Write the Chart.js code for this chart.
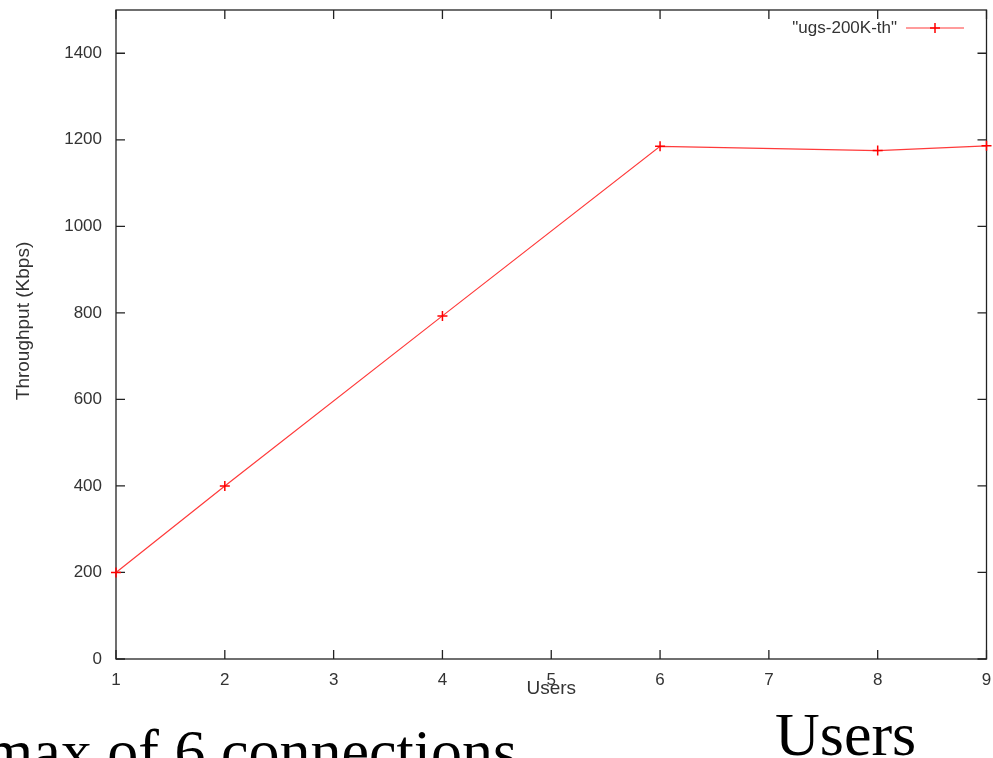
<!DOCTYPE html>
<html><head><meta charset="utf-8">
<script src="https://cdn.jsdelivr.net/npm/chart.js@4.4.0/dist/chart.umd.min.js"></script>
<style>
html,body{margin:0;padding:0;background:#fff;}
#wrap{position:relative;width:993px;height:758px;overflow:hidden;background:#fff;}
canvas{position:absolute;left:0;top:0;}
.big{position:absolute;font-family:'Liberation Serif','Times New Roman',serif;font-size:62px;color:#000;white-space:nowrap;line-height:1;}
</style></head><body>
<div id="wrap"><canvas id="c" width="993" height="758"></canvas>
<div class="big" id="t1" style="left:-15px;top:720px;">max of 6 connections</div>
<div class="big" id="t2" style="left:775px;top:703px;">Users</div>
</div>
<script>
const users = [1, 2, 4, 6, 8, 9];
const throughput = [200, 400, 793, 1185, 1175, 1186];
const xTicks = [1, 2, 3, 4, 5, 6, 7, 8, 9];
const yTicks = [0, 200, 400, 600, 800, 1000, 1200, 1400];
const seriesName = '"ugs-200K-th"';
const xTitle = 'Users';
const yTitle = 'Throughput (Kbps)';

const AX = '#333';
const FONT = "'Liberation Sans', Arial, sans-serif";

const framePlugin = {
  id: 'frame',
  beforeDatasetsDraw(chart) {
    const {ctx, chartArea: a, scales: {x, y}} = chart;
    ctx.save();
    ctx.strokeStyle = '#222';
    ctx.lineWidth = 1.3;
    ctx.strokeRect(a.left, a.top, a.right - a.left, a.bottom - a.top);
    ctx.beginPath();
    const L = 9;
    xTicks.forEach(v => {
      const p = x.getPixelForValue(v);
      ctx.moveTo(p, a.bottom); ctx.lineTo(p, a.bottom - L);
      ctx.moveTo(p, a.top); ctx.lineTo(p, a.top + L);
    });
    yTicks.forEach(v => {
      const p = y.getPixelForValue(v);
      ctx.moveTo(a.left, p); ctx.lineTo(a.left + L, p);
      ctx.moveTo(a.right, p); ctx.lineTo(a.right - L, p);
    });
    ctx.stroke();
    ctx.fillStyle = AX;
    ctx.font = "19px " + FONT;
    ctx.textAlign = 'center';
    ctx.textBaseline = 'middle';
    ctx.translate(24, 321);
    ctx.rotate(-Math.PI / 2);
    ctx.fillText(yTitle, 0, 0);
    ctx.restore();
  },
  afterDraw(chart) {
    const {ctx, chartArea: a} = chart;
    const ds = chart.data.datasets[0];
    ctx.save();
    const ly = a.top + 18;
    ctx.fillStyle = AX;
    ctx.font = "17px " + FONT;
    ctx.textAlign = 'right';
    ctx.textBaseline = 'middle';
    ctx.fillText(ds.label, 897, ly);
    ctx.strokeStyle = ds.borderColor;
    ctx.lineWidth = 1.2;
    ctx.beginPath();
    ctx.moveTo(906, ly); ctx.lineTo(964, ly);
    ctx.stroke();
    ctx.strokeStyle = ds.pointBorderColor;
    ctx.lineWidth = 1.5;
    ctx.beginPath();
    ctx.moveTo(935 - 5, ly); ctx.lineTo(935 + 5, ly);
    ctx.moveTo(935, ly - 5); ctx.lineTo(935, ly + 5);
    ctx.stroke();
    ctx.restore();
  }
};

new Chart(document.getElementById('c'), {
  type: 'line',
  data: {
    datasets: [{
      label: seriesName,
      data: users.map((u, i) => ({x: u, y: throughput[i]})),
      borderColor: '#ff3a3a',
      borderWidth: 1.2,
      pointStyle: 'cross',
      pointRadius: 5,
      pointBorderColor: '#ff0000',
      pointBorderWidth: 1.5,
      pointBackgroundColor: '#ff0000',
      tension: 0,
      fill: false,
      clip: false
    }]
  },
  options: {
    responsive: false,
    animation: false,
    events: [],
    layout: {padding: {top: 10, right: 6, left: 0, bottom: 0}},
    plugins: {legend: {display: false}, tooltip: {enabled: false}},
    scales: {
      x: {
        type: 'linear', min: 1, max: 9,
        afterBuildTicks: s => { s.ticks = xTicks.map(v => ({value: v})); },
        afterFit: s => { s.height = 99; s.paddingLeft = 0; s.paddingRight = 0; },
        grid: {display: false, drawTicks: false, tickLength: 0},
        border: {display: false},
        ticks: {font: {family: FONT, size: 17}, color: AX, padding: 11, autoSkip: false, maxRotation: 0, callback: v => String(v)},
        title: {display: true, text: xTitle, font: {family: FONT, size: 19}, color: AX, padding: {top: 0, bottom: 58}}
      },
      y: {
        type: 'linear', min: 0, max: 1500,
        afterBuildTicks: s => { s.ticks = yTicks.map(v => ({value: v})); },
        afterFit: s => { s.width = 116; s.paddingTop = 0; s.paddingBottom = 0; },
        grid: {display: false, drawTicks: false, tickLength: 0},
        border: {display: false},
        ticks: {font: {family: FONT, size: 17}, color: AX, padding: 14, callback: v => String(v)},
        title: {display: false}
      }
    }
  },
  plugins: [framePlugin]
});
</script>
</body></html>
